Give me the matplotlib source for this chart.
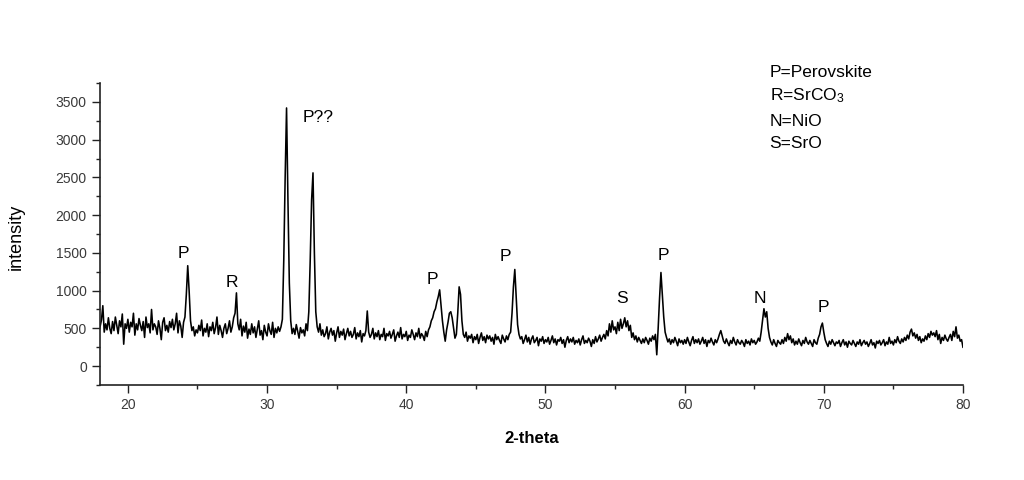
import numpy as np
import matplotlib
matplotlib.use("Agg")
import matplotlib.pyplot as plt
from matplotlib.ticker import MultipleLocator

plt.rcParams['font.family'] = ['Liberation Sans', 'DejaVu Sans']
plt.rcParams['mathtext.default'] = 'regular'

# 2-theta grid: 18.0 .. 80.0, step 0.1 (one row per degree)
two_theta_start = 18.0
two_theta_step = 0.1
intensity_rows = [
    [520, 610, 800, 450, 560, 480, 640, 500, 430, 590],      # 18
    [470, 650, 540, 430, 600, 520, 690, 290, 560, 500],      # 19
    [620, 450, 580, 520, 700, 410, 560, 480, 630, 540],      # 20
    [470, 590, 380, 650, 510, 560, 440, 750, 480, 560],      # 21
    [520, 420, 600, 500, 350, 580, 640, 470, 540, 450],      # 22
    [590, 510, 620, 480, 560, 700, 440, 600, 530, 380],      # 23
    [580, 650, 950, 1330, 1000, 600, 470, 520, 400, 480],    # 24
    [440, 540, 470, 610, 400, 500, 450, 560, 390, 520],      # 25
    [470, 580, 430, 510, 650, 420, 540, 470, 380, 500],      # 26
    [560, 430, 500, 600, 450, 520, 640, 700, 970, 560],      # 27
    [480, 620, 400, 530, 450, 580, 370, 490, 420, 560],      # 28
    [440, 520, 380, 490, 600, 410, 470, 350, 540, 450],      # 29
    [400, 560, 470, 420, 580, 380, 500, 440, 520, 460],      # 30
    [520, 620, 1400, 2500, 3420, 2200, 1100, 600, 430, 500], # 31
    [420, 550, 460, 370, 510, 440, 480, 400, 560, 470],      # 32
    [720, 1400, 2200, 2560, 1500, 720, 520, 450, 560, 410],  # 33
    [480, 390, 430, 520, 360, 450, 500, 410, 470, 330],      # 34
    [440, 520, 380, 460, 410, 490, 350, 430, 500, 400],      # 35
    [460, 380, 420, 510, 360, 440, 390, 470, 320, 430],      # 36
    [400, 470, 730, 450, 380, 420, 500, 360, 440, 390],      # 37
    [470, 350, 420, 390, 500, 340, 430, 400, 460, 370],      # 38
    [420, 480, 330, 400, 450, 380, 510, 360, 420, 390],      # 39
    [460, 340, 410, 380, 480, 420, 350, 440, 390, 500],      # 40
    [370, 430, 400, 340, 460, 390, 480, 520, 600, 640],      # 41
    [720, 760, 850, 920, 1010, 800, 600, 450, 330, 480],     # 42
    [580, 700, 720, 640, 500, 370, 420, 700, 1050, 950],     # 43
    [600, 420, 380, 450, 330, 400, 370, 420, 310, 390],      # 44
    [350, 420, 300, 380, 440, 340, 390, 310, 410, 360],      # 45
    [400, 330, 380, 290, 420, 350, 390, 340, 300, 410],      # 46
    [360, 320, 400, 350, 420, 450, 700, 1050, 1280, 900],    # 47
    [550, 420, 360, 390, 300, 350, 410, 320, 380, 290],      # 48
    [360, 400, 310, 340, 380, 270, 360, 330, 390, 300],      # 49
    [350, 320, 380, 290, 340, 400, 310, 360, 280, 350],      # 50
    [330, 380, 300, 350, 250, 340, 390, 310, 360, 320],      # 51
    [380, 290, 340, 310, 360, 280, 350, 400, 300, 340],      # 52
    [310, 370, 330, 260, 350, 300, 390, 320, 360, 410],      # 53
    [330, 380, 420, 360, 470, 400, 560, 450, 600, 480],      # 54
    [520, 430, 580, 470, 620, 500, 560, 640, 520, 600],      # 55
    [470, 540, 380, 440, 350, 400, 320, 380, 340, 300],      # 56
    [360, 310, 380, 340, 290, 370, 330, 400, 350, 420],      # 57
    [150, 500, 900, 1240, 950, 650, 450, 380, 320, 360],     # 58
    [290, 350, 310, 380, 330, 270, 360, 310, 340, 290],      # 59
    [350, 300, 380, 320, 270, 340, 390, 300, 350, 310],      # 60
    [360, 290, 330, 380, 300, 350, 260, 340, 310, 370],      # 61
    [320, 280, 350, 310, 360, 420, 470, 400, 330, 300],      # 62
    [360, 310, 270, 340, 300, 380, 320, 280, 350, 310],      # 63
    [290, 340, 310, 260, 350, 300, 330, 280, 360, 310],      # 64
    [340, 290, 320, 370, 330, 450, 600, 760, 650, 720],      # 65
    [500, 380, 320, 280, 350, 300, 260, 340, 310, 290],      # 66
    [350, 300, 380, 330, 430, 350, 400, 310, 360, 280],      # 67
    [330, 290, 360, 310, 270, 340, 300, 380, 320, 290],      # 68
    [340, 300, 260, 350, 310, 290, 370, 420, 520, 570],      # 69
    [450, 350, 300, 260, 330, 290, 350, 310, 270, 320],      # 70
    [300, 340, 260, 310, 350, 280, 320, 250, 330, 300],      # 71
    [280, 340, 300, 260, 320, 290, 350, 270, 310, 340],      # 72
    [290, 320, 260, 300, 350, 280, 310, 240, 330, 300],      # 73
    [340, 280, 310, 350, 270, 320, 290, 380, 300, 330],      # 74
    [280, 350, 310, 390, 330, 300, 360, 320, 380, 340],      # 75
    [410, 360, 450, 490, 400, 440, 370, 420, 340, 390],      # 76
    [310, 360, 330, 400, 350, 430, 380, 460, 410, 440],      # 77
    [390, 470, 350, 420, 300, 380, 340, 410, 360, 330],      # 78
    [380, 420, 340, 460, 390, 520, 370, 410, 330, 350],      # 79
    [250],                                                   # 80
]

# peak labels: (text, 2-theta, intensity)
peak_labels = [
    ("P", 24.0, 1490),
    ("R", 27.5, 1110),
    ("P??", 33.7, 3290),
    ("P", 41.9, 1150),
    ("P", 47.1, 1450),
    ("S", 55.5, 890),
    ("P", 58.5, 1470),
    ("N", 65.4, 890),
    ("P", 70.0, 770),
]

legend_lines = ["P=Perovskite", "R=SrCO$_3$", "N=NiO", "S=SrO"]
legend_y = [3884, 3580, 3236, 2946]

intensity = np.array([v for row in intensity_rows for v in row], dtype=float)
two_theta = two_theta_start + two_theta_step * np.arange(len(intensity))

fig = plt.figure(figsize=(10.24, 4.8), dpi=100)
ax = fig.add_axes([0.0977, 0.198, 0.8427, 0.629])

ax.plot(two_theta, intensity, color="black", lw=1.15)

ax.set_xlim(18, 80)
ax.set_ylim(-250, 3750)
ax.xaxis.set_major_locator(MultipleLocator(10))
ax.xaxis.set_minor_locator(MultipleLocator(5))
ax.yaxis.set_major_locator(MultipleLocator(500))
ax.yaxis.set_minor_locator(MultipleLocator(250))

for s in ["top", "right"]:
    ax.spines[s].set_visible(False)
for s in ["left", "bottom"]:
    ax.spines[s].set_linewidth(1.2)
    ax.spines[s].set_color("#222222")

ax.tick_params(which="major", direction="out", length=6, width=1.0,
               color="#222222", labelsize=10, labelcolor="#3a3a3a")
ax.tick_params(which="minor", direction="out", length=3, width=1.0, color="#222222")

ax.set_xlabel("2-theta", fontsize=12, fontweight="bold")
ax.set_ylabel("intensity", fontsize=13)
ax.xaxis.set_label_coords(0.5, -0.152)
ax.yaxis.set_label_coords(-0.087, 0.49)

for txt, x, y in peak_labels:
    ax.text(x, y, txt, ha="center", va="center", fontsize=12.5)

for txt, y in zip(legend_lines, legend_y):
    ax.text(66.1, y, txt, ha="left", va="center", fontsize=12.5, clip_on=False)

plt.savefig("out.png", dpi=100)
